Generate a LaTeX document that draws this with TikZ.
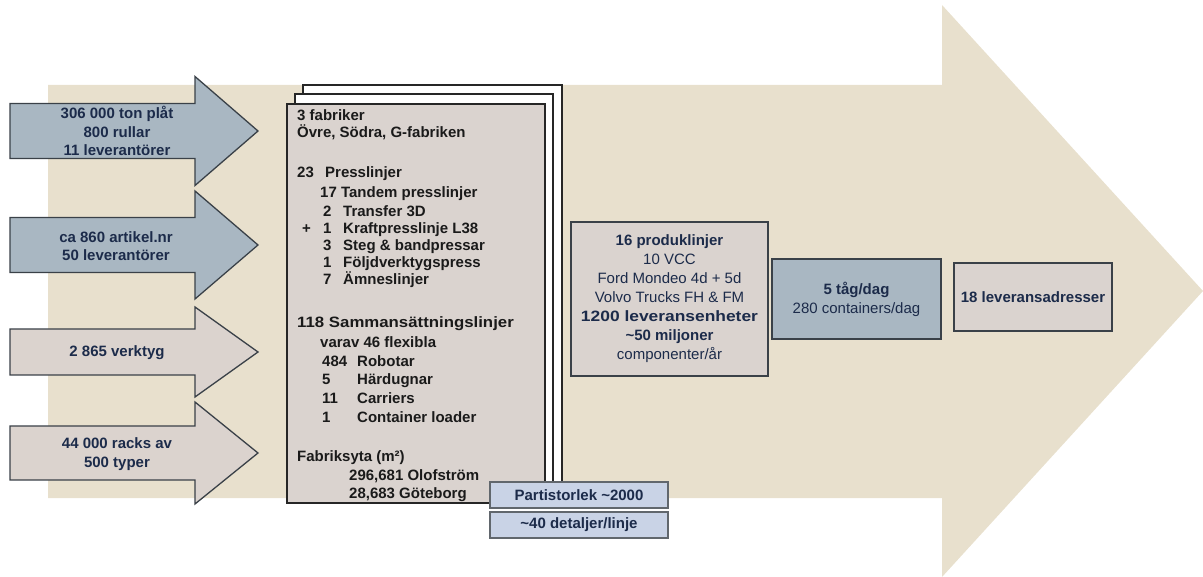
\documentclass[tikz,border=0pt]{standalone}
\usepackage{fontspec}
\usepackage{graphicx}
\setmainfont{Liberation Sans}
\definecolor{bgbeige}{HTML}{E8E0CD}
\definecolor{arrblue}{HTML}{A9B7C2}
\definecolor{arrgrey}{HTML}{DBD3CE}
\definecolor{boxgrey}{HTML}{DAD3CF}
\definecolor{lblue}{HTML}{C9D3E6}
\definecolor{outl}{HTML}{3A4148}
\definecolor{navy}{HTML}{1C2B4A}
\definecolor{darktext}{HTML}{1A1A1A}
\newcommand\inarr[4]{%
  \draw[inarrow, fill=#4] (10,#1-#2) -- (195,#1-#2) -- (195,#1-#3) -- (258,#1)
    -- (195,#1+#3) -- (195,#1+#2) -- (10,#1+#2) -- cycle;}
\newcommand\bl[4]{\node[bigtxt] (#1) at (#2,#3+5) {#4};}
\begin{document}
\begin{tikzpicture}[x=1pt,y=-1pt,
  inarrow/.style={draw=outl, line width=1.3pt, line join=miter},
  txt/.style={font=\fontsize{15}{18.5}\selectfont\bfseries, text=navy, align=center, inner sep=0pt},
  bigtxt/.style={font=\fontsize{15}{18}\selectfont\bfseries, text=darktext, anchor=base west, inner sep=0pt},
  sheet/.style={draw=black!85, line width=1.6pt},
  infobox/.style={draw=outl, line width=1.2pt, inner sep=0pt, align=center,
    font=\fontsize{15}{19}\selectfont, text=navy},
  smallbox/.style={draw=outl!80, line width=1.2pt, fill=lblue, inner sep=0pt,
    minimum width=178, minimum height=26, font=\fontsize{15}{18}\selectfont\bfseries, text=navy}
]
\useasboundingbox (0,0) rectangle (1203,577);
% background arrow
\fill[bgbeige] (48,85) -- (942,85) -- (942,5) -- (1203,291) -- (942,577)
  -- (942,498) -- (48,498) -- cycle;
% input arrows
\inarr{131}{27.5}{54.5}{arrblue}
\inarr{245}{27.5}{54}{arrblue}
\inarr{352}{23}{45}{arrgrey}
\inarr{453}{27}{51}{arrgrey}
\node[txt] (a1) at (117,131) {306 000 ton plåt\\800 rullar\\11 leverantörer};
\node[txt] (a2) at (116,246) {ca 860 artikel.nr\\50 leverantörer};
\node[txt] (a3) at (117,353) {2 865 verktyg};
\node[txt] (a4) at (117,454) {44 000 racks av\\500 typer};
% stack of sheets
\draw[sheet, fill=white] (303,85) rectangle (562,484);
\draw[sheet, fill=white] (295,94) rectangle (553,493);
\node[sheet, fill=boxgrey, anchor=north west, minimum width=258, minimum height=399,
  inner sep=0pt] (fab) at (286,103) {};
\bl{t1}{297}{116}{3 fabriker}
\bl{t2}{297}{133}{Övre, Södra, G-fabriken}
\bl{t3}{297}{173}{\makebox[28pt][l]{23}Presslinjer}
\bl{t4}{320}{193}{17 Tandem presslinjer}
\bl{t5}{323}{212}{\makebox[20pt][l]{2}Transfer 3D}
\bl{t6}{302}{229}{\makebox[21pt][l]{+}\makebox[20pt][l]{1}Kraftpresslinje L38}
\bl{t7}{323}{246}{\makebox[20pt][l]{3}Steg \& bandpressar}
\bl{t8}{323}{263}{\makebox[20pt][l]{1}Följdverktygspress}
\bl{t9}{323}{280}{\makebox[20pt][l]{7}Ämneslinjer}
\bl{t10}{297}{323}{\scalebox{1.12}[1]{118 Sammansättningslinjer}}
\bl{t11}{320}{343}{varav 46 flexibla}
\bl{t12}{322}{362}{\makebox[35pt][l]{484}Robotar}
\bl{t13}{322}{380}{\makebox[35pt][l]{5}Härdugnar}
\bl{t14}{322}{399}{\makebox[35pt][l]{11}Carriers}
\bl{t15}{322}{417}{\makebox[35pt][l]{1}Container loader}
\bl{t16}{297}{456}{Fabriksyta (m²)}
\bl{t17}{349}{475}{296,681 Olofström}
\bl{t18}{349}{493}{28,683 Göteborg}
% small boxes under stack
\node[smallbox] (parti) at (579,495) {Partistorlek \textasciitilde 2000};
\node[smallbox] (det) at (579,525) {\textasciitilde 40 detaljer/linje};
% production box
\node[infobox, fill=boxgrey, minimum width=197, minimum height=154] (prod) at (669.5,299)
  {\textbf{16 produklinjer}\\10 VCC\\Ford Mondeo 4d + 5d\\Volvo Trucks FH \& FM\\
   \scalebox{1.16}[1]{\textbf{1200 leveransenheter}}\\\textbf{\textasciitilde 50 miljoner}\\componenter/år};
\node[infobox, fill=arrblue, minimum width=169, minimum height=80] (tag) at (856.5,299)
  {\textbf{5 tåg/dag}\\280 containers/dag};
\node[infobox, fill=boxgrey, minimum width=158, minimum height=68,
  font=\fontsize{15}{18}\selectfont\bfseries] (lev) at (1033,297) {18 leveransadresser};
\end{tikzpicture}
\end{document}
